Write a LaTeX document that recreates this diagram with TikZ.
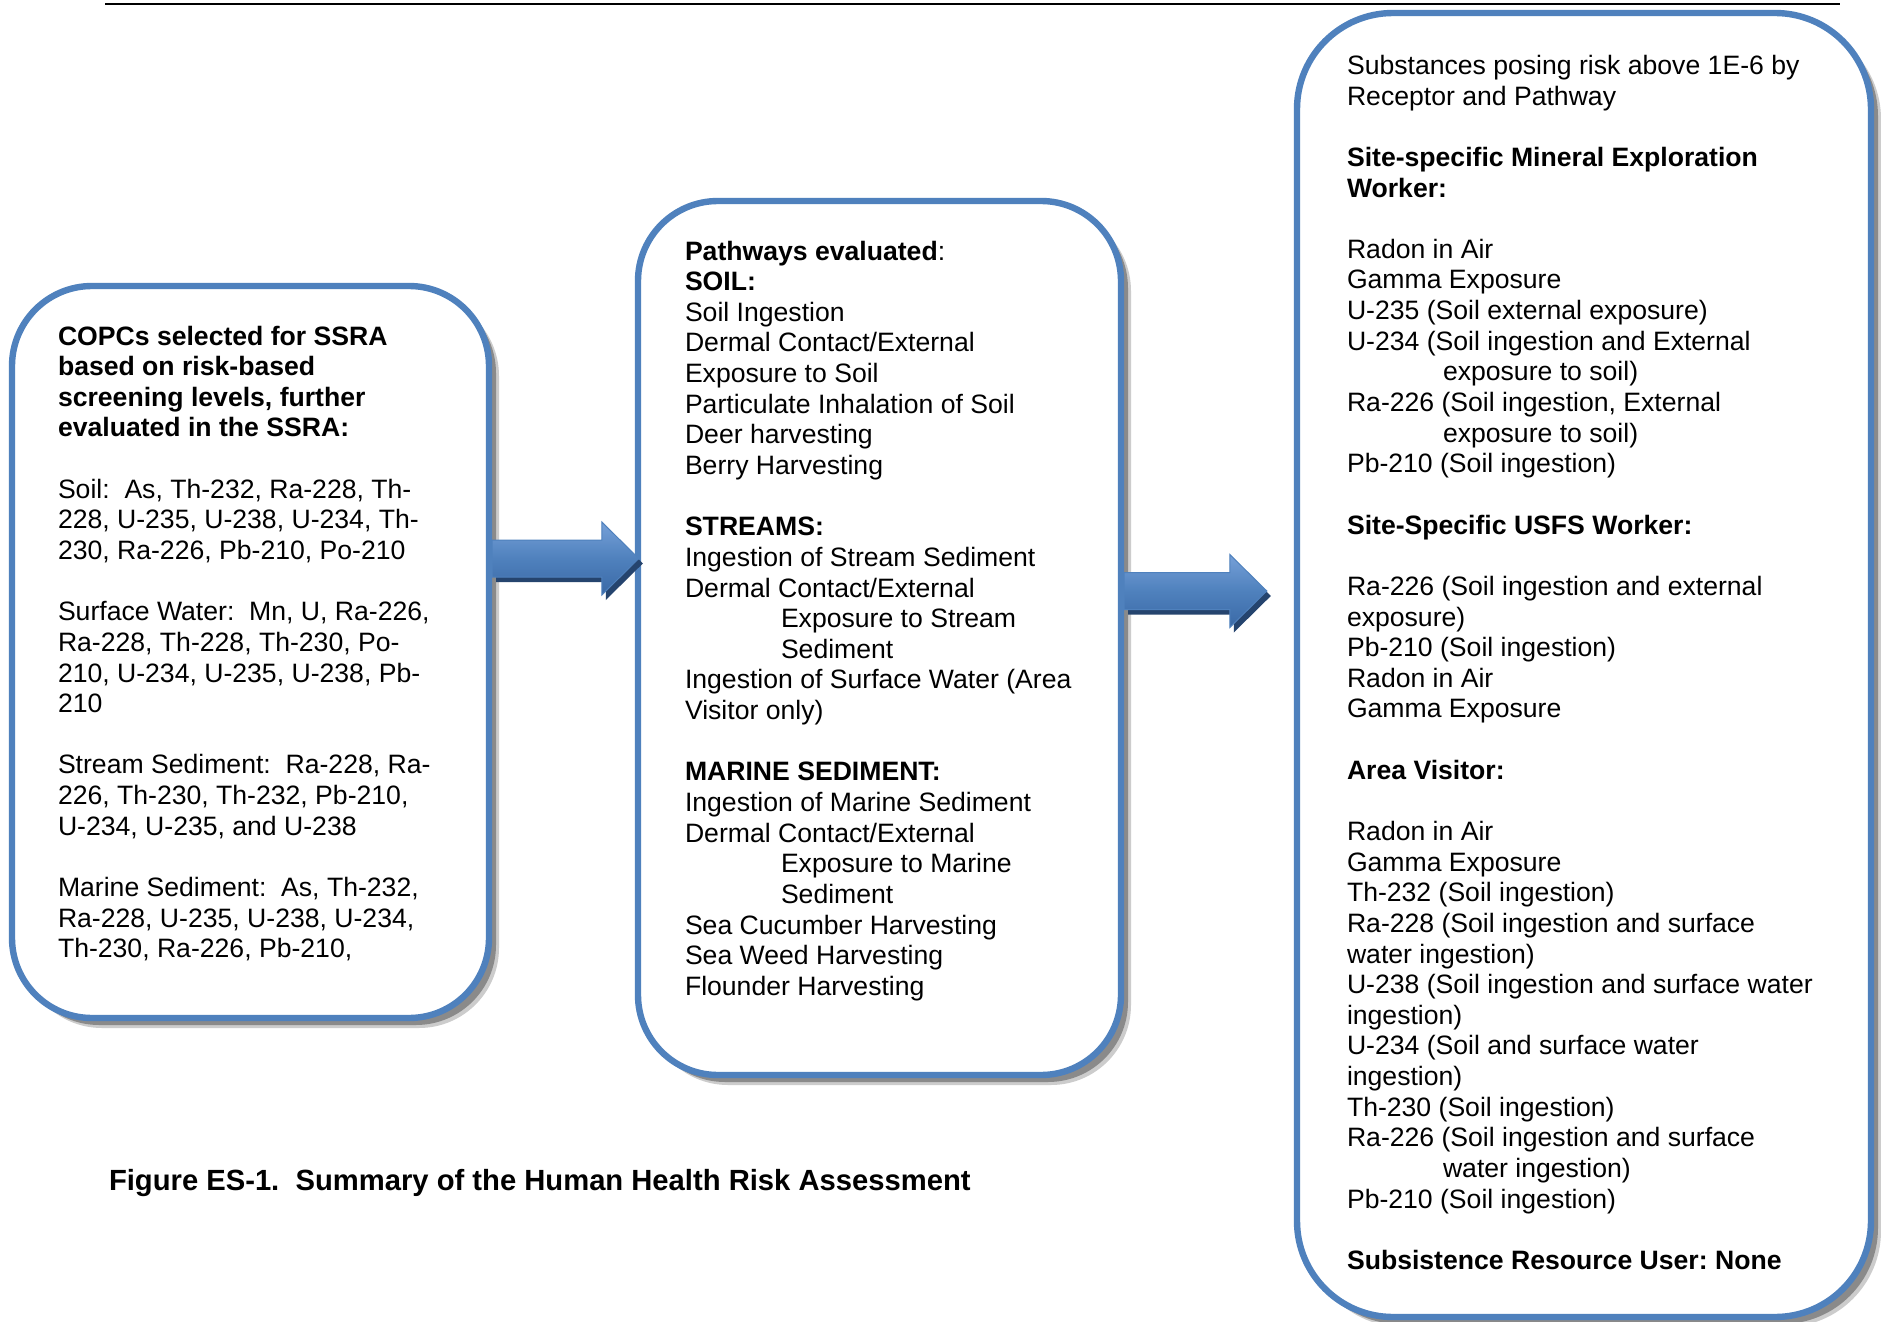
\documentclass[tikz,border=0pt]{standalone}
\usepackage{fontspec}
\setmainfont{Liberation Sans}
\usetikzlibrary{calc,shadows}
\frenchspacing

\definecolor{boxblue}{HTML}{4F81BD}
\definecolor{arrowtop}{HTML}{76A0D8}
\definecolor{arrowbot}{HTML}{3A69A6}
\definecolor{arrowshade}{HTML}{25446E}
\definecolor{shadowgray}{HTML}{8A8A8A}

\newcommand\blankline{\\[15.32pt]}

\tikzset{
  panel/.style={rectangle, draw=boxblue, line width=3.2pt, fill=white, inner sep=0pt,
    drop shadow={shadow xshift=5pt, shadow yshift=-5pt, fill=black!20, opacity=1},
    drop shadow={shadow xshift=3.5pt, shadow yshift=-3.5pt, fill=shadowgray, opacity=1}},
  bodytext/.style={font=\fontsize{13.3pt}{15.32pt}\selectfont, align=left,
    anchor=north west, inner sep=0pt, outer sep=0pt},
  captiontext/.style={bodytext, font=\fontsize{14.6pt}{16.8pt}\selectfont\bfseries},
  blockfill/.style={top color=arrowtop, bottom color=arrowbot, middle color=boxblue,
    draw=boxblue, line width=0.5pt, line join=miter},
}

% block arrow from a tail point (#1) to a tip point (#2)
\newcommand\blockarrowpath[2]{%
  ($(#1)+(0,-18.5)$) -- ($(#2)+(-37,-18.5)$) -- ($(#2)+(-37,-36.5)$) -- (#2)
  -- ($(#2)+(-37,36.5)$) -- ($(#2)+(-37,18.5)$) -- ($(#1)+(0,18.5)$) -- cycle}
\newcommand\blockarrow[2]{%
  \begin{scope}[transform canvas={shift={(4,5)}}]
    \fill[arrowshade] \blockarrowpath{#1}{#2};
  \end{scope}
  \shade[blockfill] \blockarrowpath{#1}{#2};
}

\begin{document}
\begin{tikzpicture}[x=0.5pt, y=-0.5pt]
\useasboundingbox (0,0) rectangle (1881,1322);
\fill[white] (0,0) rectangle (1881,1322);

% header rule
\draw[line width=1.25pt] (105,4) -- (1840,4);

% the three panels
\node[panel, rounded corners=40pt, minimum width=238.5pt, minimum height=366pt]
  (copc) at (250.5,652) {};
\node[panel, rounded corners=40pt, minimum width=241.5pt, minimum height=437pt]
  (paths) at (879.5,638) {};
\node[panel, rounded corners=48pt, minimum width=287pt, minimum height=652pt]
  (risk) at (1584,665) {};

% connecting block arrows
\coordinate (lane1) at (0,558.5);
\coordinate (lane2) at (0,591);
\coordinate (a1tail) at (copc.east |- lane1);
\coordinate (a1tip) at ($(paths.west |- lane1)+(4,0)$);
\coordinate (a2tail) at (paths.east |- lane2);
\coordinate (a2tip) at ($(risk.west |- lane2)+(-27,0)$);
\blockarrow{a1tail}{a1tip}
\blockarrow{a2tail}{a2tip}

% panel texts
\node[bodytext] (copctext) at (58,323) {\rule{0pt}{11pt}\textbf{COPCs selected for SSRA}\\
\textbf{based on risk-based}\\
\textbf{screening levels, further}\\
\textbf{evaluated in the SSRA:}\blankline
Soil:~ As, Th-232, Ra-228, Th-\\
228, U-235, U-238, U-234, Th-\\
230, Ra-226, Pb-210, Po-210\blankline
Surface Water:~ Mn, U, Ra-226,\\
Ra-228, Th-228, Th-230, Po-\\
210, U-234, U-235, U-238, Pb-\\
210\blankline
Stream Sediment:~ Ra-228, Ra-\\
226, Th-230, Th-232, Pb-210,\\
U-234, U-235, and U-238\blankline
Marine Sediment:~ As, Th-232,\\
Ra-228, U-235, U-238, U-234,\\
Th-230, Ra-226, Pb-210,};

\node[bodytext] (pathtext) at (685,238) {\rule{0pt}{11pt}\textbf{Pathways evaluated}:\\
\textbf{SOIL:}\\
Soil Ingestion\\
Dermal Contact/External\\
Exposure to Soil\\
Particulate Inhalation of Soil\\
Deer harvesting\\
Berry Harvesting\blankline
\textbf{STREAMS:}\\
Ingestion of Stream Sediment\\
Dermal Contact/External\\
\hspace*{48pt}Exposure to Stream\\
\hspace*{48pt}Sediment\\
Ingestion of Surface Water (Area\\
Visitor only)\blankline
\textbf{MARINE SEDIMENT:}\\
Ingestion of Marine Sediment\\
Dermal Contact/External\\
\hspace*{48pt}Exposure to Marine\\
\hspace*{48pt}Sediment\\
Sea Cucumber Harvesting\\
Sea Weed Harvesting\\
Flounder Harvesting};

\node[bodytext] (risktext) at (1347,52.5) {\rule{0pt}{11pt}Substances posing risk above 1E-6 by\\
Receptor and Pathway\blankline
\textbf{Site-specific Mineral Exploration}\\
\textbf{Worker:}\blankline
Radon in Air\\
Gamma Exposure\\
U-235 (Soil external exposure)\\
U-234 (Soil ingestion and External\\
\hspace*{48pt}exposure to soil)\\
Ra-226 (Soil ingestion, External\\
\hspace*{48pt}exposure to soil)\\
Pb-210 (Soil ingestion)\blankline
\textbf{Site-Specific USFS Worker:}\blankline
Ra-226 (Soil ingestion and external\\
exposure)\\
Pb-210 (Soil ingestion)\\
Radon in Air\\
Gamma Exposure\blankline
\textbf{Area Visitor:}\blankline
Radon in Air\\
Gamma Exposure\\
Th-232 (Soil ingestion)\\
Ra-228 (Soil ingestion and surface\\
water ingestion)\\
U-238 (Soil ingestion and surface water\\
ingestion)\\
U-234 (Soil and surface water\\
ingestion)\\
Th-230 (Soil ingestion)\\
Ra-226 (Soil ingestion and surface\\
\hspace*{48pt}water ingestion)\\
Pb-210 (Soil ingestion)\blankline
\textbf{Subsistence Resource User: None}};

% caption
\node[captiontext] (caption) at (109,1166) {\rule{0pt}{12pt}Figure ES-1.~ Summary of the Human Health Risk Assessment};
\end{tikzpicture}
\end{document}
